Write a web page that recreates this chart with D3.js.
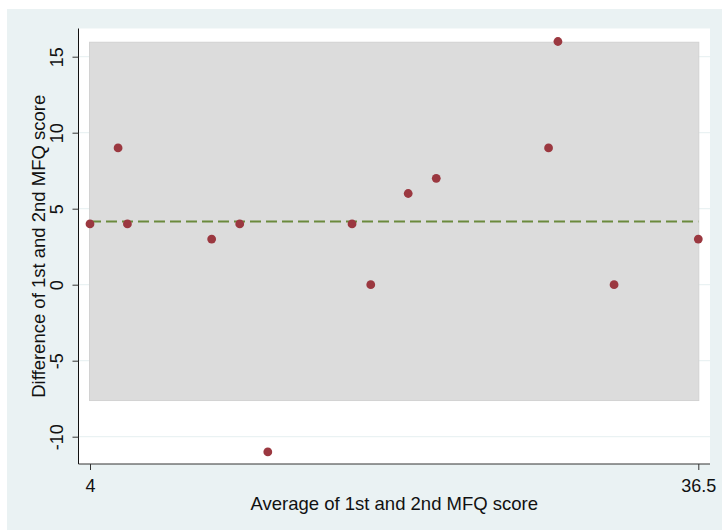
<!DOCTYPE html>
<html>
<head>
<meta charset="utf-8">
<script src="https://cdn.jsdelivr.net/npm/d3@7"></script>
<style>
  html, body { margin: 0; padding: 0; background: #ffffff; }
  svg { display: block; }
  text { font-family: "Liberation Sans", Arial, sans-serif; fill: #111; }
</style>
</head>
<body>
<svg id="chart" width="722" height="530"></svg>
<script>
// ---- data ----
const avgScore  = [4, 5.5, 6, 10.5, 12, 13.5, 18, 19, 21, 22.5, 28.5, 29, 32, 36.5];
const diffScore = [4, 9, 4, 3, 4, -11, 4, 0, 6, 7, 9, 16, 0, 3];
const meanDiff = 4.15;
const upperLoA = 15.95;
const lowerLoA = -7.62;
const xTickValues = [4, 36.5];
const xTickLabels = ["4", "36.5"];
const yTickValues = [-10, -5, 0, 5, 10, 15];
const yTickLabels = ["-10", "-5", "0", "5", "10", "15"];
const xTitle = "Average of 1st and 2nd MFQ score";
const yTitle = "Difference of 1st and 2nd MFQ score";

// ---- layout ----
const W = 722, H = 530;
const plot = { left: 78.5, top: 28.5, right: 710, bottom: 464 };

const svg = d3.select("#chart");

// outer graph region background
svg.append("rect").attr("x", 7).attr("y", 9).attr("width", W - 7).attr("height", H - 9)
  .attr("fill", "#eaf2f3");

// plot region
svg.append("rect").attr("x", plot.left).attr("y", plot.top)
  .attr("width", plot.right - plot.left).attr("height", plot.bottom - plot.top)
  .attr("fill", "#ffffff");

const x = d3.scaleLinear().domain([4, 36.5]).range([90, 698.3]);
const y = d3.scaleLinear().domain([0, 15]).range([284.7, 56.7]);

// gridlines
svg.append("g").selectAll("line").data(yTickValues).join("line")
  .attr("x1", plot.left).attr("x2", plot.right)
  .attr("y1", d => y(d)).attr("y2", d => y(d))
  .attr("stroke", "#eaf2f3").attr("stroke-width", 1.2);

// limits of agreement band
svg.append("rect")
  .attr("x", x(d3.min(avgScore)) - 0.5)
  .attr("y", y(upperLoA))
  .attr("width", x(d3.max(avgScore)) - x(d3.min(avgScore)) + 1)
  .attr("height", y(lowerLoA) - y(upperLoA))
  .attr("fill", "#dcdcdc").attr("stroke", "#d2d2d2").attr("stroke-width", 1);

// mean difference line
svg.append("line")
  .attr("x1", x(d3.min(avgScore))).attr("x2", x(d3.max(avgScore)))
  .attr("y1", y(meanDiff)).attr("y2", y(meanDiff))
  .attr("stroke", "#6b8a3d").attr("stroke-width", 2)
  .attr("stroke-dasharray", "11,5");

// points
svg.append("g").selectAll("circle").data(avgScore.map((a, i) => [a, diffScore[i]])).join("circle")
  .attr("cx", d => x(d[0])).attr("cy", d => y(d[1])).attr("r", 4.4)
  .attr("fill", "#9b3840");

// y axis
const yAxis = d3.axisLeft(y).tickValues(yTickValues)
  .tickFormat((d, i) => yTickLabels[i]).tickSize(6).tickPadding(3);
const gy = svg.append("g").attr("transform", `translate(${plot.left},0)`).call(yAxis);
gy.select(".domain").attr("d", `M0,${plot.top}V${plot.bottom}`).attr("stroke", "#111");
gy.selectAll(".tick line").attr("stroke", "#333");
gy.selectAll(".tick text")
  .attr("x", null).attr("dy", null)
  .attr("text-anchor", "middle")
  .attr("transform", "translate(-16,0) rotate(-90)")
  .style("font-size", "18px").style("font-family", "Liberation Sans, Arial, sans-serif")
  .attr("fill", "#111");

// x axis
const xAxis = d3.axisBottom(x).tickValues(xTickValues).tickFormat((d, i) => xTickLabels[i]).tickSize(6).tickPadding(3);
const gx = svg.append("g").attr("transform", `translate(0,${plot.bottom})`).call(xAxis);
gx.select(".domain").attr("d", `M${plot.left},0H${plot.right}`).attr("stroke", "#333");
gx.selectAll(".tick line").attr("stroke", "#333");
gx.selectAll(".tick text")
  .attr("y", 27.5).attr("dy", null)
  .style("font-size", "18px").style("font-family", "Liberation Sans, Arial, sans-serif")
  .attr("fill", "#111");

// axis titles
svg.append("text")
  .attr("x", (plot.left + plot.right) / 2).attr("y", 509.5)
  .attr("text-anchor", "middle").style("font-size", "18.5px")
  .text(xTitle);

svg.append("text")
  .attr("transform", `translate(44.5,${(plot.top + plot.bottom) / 2}) rotate(-90)`)
  .attr("text-anchor", "middle").style("font-size", "18.5px")
  .text(yTitle);
</script>
</body>
</html>
